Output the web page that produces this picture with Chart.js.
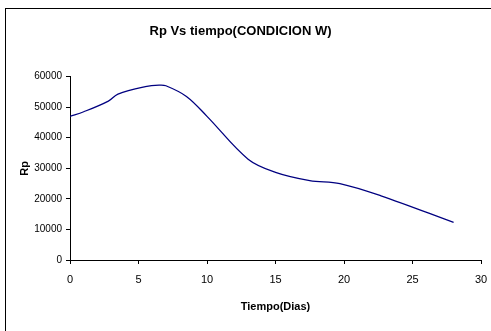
<!DOCTYPE html>
<html>
<head>
<meta charset="utf-8">
<script src="https://cdn.jsdelivr.net/npm/chart.js@4.4.0/dist/chart.umd.min.js"></script>
<style>
  html, body { margin: 0; padding: 0; background: #fff; overflow: hidden; }
  #wrap { position: relative; width: 491px; height: 331px; }
  #frame { position: absolute; left: 5px; top: 8px; width: 600px; height: 600px; border: 1px solid #000; box-sizing: border-box; }
  #chartRp { position: absolute; left: 0; top: 0; }
</style>
</head>
<body>
<div id="wrap">
  <div id="frame"></div>
  <canvas id="chartRp" width="491" height="331"></canvas>
</div>
<script>
// Datos
const dias = [0, 1, 2.8, 3.5, 5.5, 6.5, 7, 8.5, 10, 13, 15, 17.5, 19.7, 22.7, 28];
const rp = [47000, 48500, 52000, 54300, 56700, 57200, 57000, 53500, 47000, 33000, 28700, 26000, 25000, 21000, 12300];
const xTicks = [0, 5, 10, 15, 20, 25, 30];
const yTicks = [0, 10000, 20000, 30000, 40000, 50000, 60000];

const fam = "'Liberation Sans', Arial, sans-serif";

const puntos = dias.map(function (d, i) {
  return { x: d, y: rp[i] };
});

const ctx = document.getElementById('chartRp').getContext('2d');
const myChart = new Chart(ctx, {
  type: 'scatter',
  data: {
    datasets: [{
      label: 'Rp',
      data: puntos,
      showLine: true,
      borderColor: '#000080',
      backgroundColor: 'transparent',
      borderWidth: 1.3,
      pointRadius: 0,
      tension: 0.35
    }]
  },
  options: {
    responsive: false,
    animation: false,
    layout: { padding: { left: 0, right: 10, top: 0, bottom: 0 } },
    plugins: {
      legend: { display: false },
      tooltip: { enabled: false },
      title: {
        display: true,
        text: 'Rp Vs tiempo(CONDICION W)',
        color: '#000',
        font: { family: fam, size: 13, weight: 'bold' },
        padding: { top: 24, bottom: 37 }
      }
    },
    scales: {
      x: {
        type: 'linear',
        min: xTicks[0],
        max: xTicks[xTicks.length - 1],
        afterBuildTicks: function (s) { s.ticks = xTicks.map(function (v) { return { value: v }; }); },
        afterFit: function (s) { s.height = 71; s.paddingRight = 0; },
        grid: { drawOnChartArea: false, drawTicks: true, tickLength: 4, color: '#000' },
        border: { color: '#000', width: 1 },
        ticks: { color: '#000', padding: 9, font: { family: fam, size: 11 }, maxRotation: 0 },
        title: {
          display: true,
          text: 'Tiempo(Dias)',
          color: '#000',
          font: { family: fam, size: 11, weight: 'bold' },
          padding: { top: 0, bottom: 17 }
        }
      },
      y: {
        type: 'linear',
        min: yTicks[0],
        max: yTicks[yTicks.length - 1],
        afterBuildTicks: function (s) { s.ticks = yTicks.map(function (v) { return { value: v }; }); },
        afterFit: function (s) { s.width = 70; },
        grid: { drawOnChartArea: false, drawTicks: true, tickLength: 4, color: '#000' },
        border: { color: '#000', width: 1 },
        ticks: {
          color: '#000',
          padding: 4,
          font: { family: fam, size: 10 },
          callback: function (v) { return String(v); }
        },
        title: {
          display: true,
          text: 'Rp',
          color: '#000',
          font: { family: fam, size: 11, weight: 'bold' },
          padding: { top: 18, bottom: 0 }
        }
      }
    }
  }
});
</script>
</body>
</html>
